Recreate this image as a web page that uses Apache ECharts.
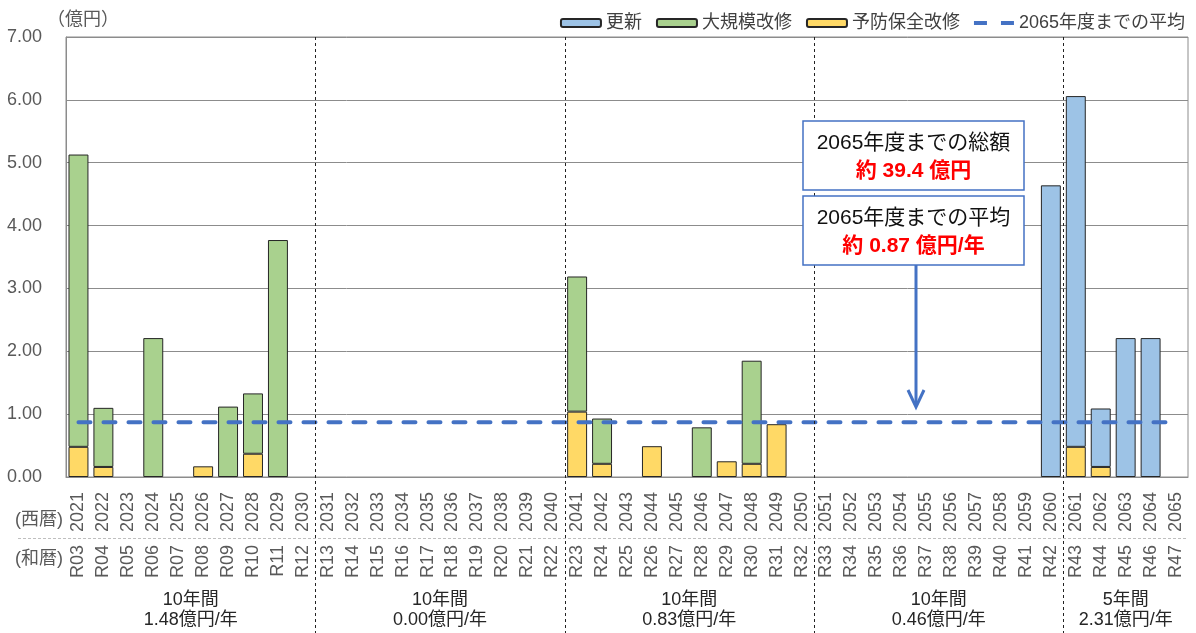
<!DOCTYPE html>
<html>
<head>
<meta charset="utf-8">
<script src="https://cdn.jsdelivr.net/npm/echarts@6/dist/echarts.min.js"></script>
<style>
  html, body { margin: 0; padding: 0; background: #fff; }
  #chart { width: 1196px; height: 633px; }
</style>
</head>
<body>
<div id="chart"></div>
<script>
// 西暦 / 和暦
const years = [
  '2021', '2022', '2023', '2024', '2025', '2026', '2027', '2028', '2029', '2030',
  '2031', '2032', '2033', '2034', '2035', '2036', '2037', '2038', '2039', '2040',
  '2041', '2042', '2043', '2044', '2045', '2046', '2047', '2048', '2049', '2050',
  '2051', '2052', '2053', '2054', '2055', '2056', '2057', '2058', '2059', '2060',
  '2061', '2062', '2063', '2064', '2065'
];
const wareki = [
  'R03', 'R04', 'R05', 'R06', 'R07', 'R08', 'R09', 'R10', 'R11', 'R12',
  'R13', 'R14', 'R15', 'R16', 'R17', 'R18', 'R19', 'R20', 'R21', 'R22',
  'R23', 'R24', 'R25', 'R26', 'R27', 'R28', 'R29', 'R30', 'R31', 'R32',
  'R33', 'R34', 'R35', 'R36', 'R37', 'R38', 'R39', 'R40', 'R41', 'R42',
  'R43', 'R44', 'R45', 'R46', 'R47'
];

// 億円
const preventive = [
  0.48, 0.16, null, null, null, 0.17, null, 0.37, null, null,
  null, null, null, null, null, null, null, null, null, null,
  1.04, 0.21, null, 0.49, null, null, 0.25, 0.21, 0.84, null,
  null, null, null, null, null, null, null, null, null, null,
  0.48, 0.16, null, null, null
];
const major = [
  4.65, 0.94, null, 2.21, null, null, 1.12, 0.96, 3.77, null,
  null, null, null, null, null, null, null, null, null, null,
  2.15, 0.72, null, null, null, 0.79, null, 1.64, null, null,
  null, null, null, null, null, null, null, null, null, null,
  null, null, null, null, null
];
const renewal = [
  null, null, null, null, null, null, null, null, null, null,
  null, null, null, null, null, null, null, null, null, null,
  null, null, null, null, null, null, null, null, null, null,
  null, null, null, null, null, null, null, null, null, 4.64,
  5.58, 0.93, 2.21, 2.21, null
];
const average = 0.87;

const yTicks = [0, 1, 2, 3, 4, 5, 6, 7];

// 期間ごとの集計
const periodStart = [0, 10, 20, 30, 40];
const periodEnd = [9, 19, 29, 39, 44];
const periodLength = ['10年間', '10年間', '10年間', '10年間', '5年間'];
const periodRate = ['1.48億円/年', '0.00億円/年', '0.83億円/年', '0.46億円/年', '2.31億円/年'];

const FONT = "'Liberation Sans', 'Noto Sans CJK JP', sans-serif";
const GRAY = '#8c8c8c';
const LABEL = '#595959';
const BLUE = '#4472C4';

const barStyle = color => ({ color: color, borderColor: '#262626', borderWidth: 1 });

const option = {
  animation: false,
  textStyle: { fontFamily: FONT },
  legend: {
    data: [
      '更新', '大規模改修', '予防保全改修',
      {
        name: '2065年度までの平均',
        icon: 'path://M0,0h13v4h-13z M27,0h13v4h-13z',
        itemStyle: { color: BLUE, borderWidth: 0 }
      }
    ],
    right: 6,
    top: 9,
    itemWidth: 40,
    itemHeight: 8,
    itemGap: 14,
    textStyle: { fontSize: 18, color: '#404040', fontFamily: FONT }
  },
  grid: {
    left: 66, right: 8, top: 37, bottom: 156,
    show: true, borderColor: GRAY, borderWidth: 1
  },
  xAxis: [
    {
      type: 'category',
      data: years,
      axisLine: { lineStyle: { color: GRAY } },
      axisTick: { show: false },
      axisLabel: { rotate: 90, interval: 0, margin: 15, fontSize: 18, color: LABEL, fontFamily: FONT }
    },
    {
      type: 'category',
      data: wareki,
      position: 'bottom',
      offset: 53,
      axisLine: { show: false },
      axisTick: { show: false },
      axisLabel: { rotate: 90, interval: 0, margin: 15, fontSize: 18, color: LABEL, fontFamily: FONT }
    }
  ],
  yAxis: {
    type: 'value',
    min: yTicks[0],
    max: yTicks[yTicks.length - 1],
    interval: 1,
    axisLine: { show: true, lineStyle: { color: GRAY } },
    axisLabel: { margin: 24, fontSize: 18, color: LABEL, fontFamily: FONT, formatter: v => v.toFixed(2) },
    splitLine: { lineStyle: { color: GRAY } }
  },
  series: [
    {
      name: '予防保全改修', type: 'bar', stack: 'total', data: preventive,
      barCategoryGap: '20%', itemStyle: barStyle('#FFD966')
    },
    {
      name: '大規模改修', type: 'bar', stack: 'total', data: major,
      itemStyle: barStyle('#A9D18E')
    },
    {
      name: '更新', type: 'bar', stack: 'total', data: renewal,
      itemStyle: barStyle('#9DC3E6')
    },
    {
      name: '2065年度までの平均', type: 'line',
      data: [[years[0], average], [years[years.length - 1], average]],
      symbol: 'none', z: 5,
      itemStyle: { color: BLUE },
      lineStyle: { color: BLUE, width: 4, type: [12, 13], cap: 'round' }
    }
  ]
};

const chart = echarts.init(document.getElementById('chart'));
chart.setOption(option);

// 補助線・注記
const xPx = i => chart.convertToPixel({ xAxisIndex: 0 }, years[i]);
const yTop = chart.convertToPixel({ yAxisIndex: 0 }, yTicks[yTicks.length - 1]);
const xRight = 1188;
const graphics = [];

graphics.push({
  type: 'text', left: 47, top: 11,
  style: { text: '（億円）', font: '18px ' + FONT, fill: LABEL }
});
graphics.push({
  type: 'text', x: 15, y: 520,
  style: { text: '(西暦)', font: '18px ' + FONT, fill: LABEL, verticalAlign: 'middle' }
});
graphics.push({
  type: 'text', x: 15, y: 559,
  style: { text: '(和暦)', font: '18px ' + FONT, fill: LABEL, verticalAlign: 'middle' }
});
graphics.push({
  type: 'line', z: 10,
  shape: { x1: 18, y1: 538.5, x2: xRight, y2: 538.5 },
  style: { stroke: '#bfbfbf', lineWidth: 1, lineDash: [3, 2] }
});

periodStart.forEach((s, k) => {
  if (s > 0) {
    const bx = Math.round((xPx(s - 1) + xPx(s)) / 2) + 0.5;
    graphics.push({
      type: 'line', z: 10,
      shape: { x1: bx, y1: yTop, x2: bx, y2: 633 },
      style: { stroke: '#222', lineWidth: 1, lineDash: [3, 3] }
    });
  }
  const cx = (xPx(s) + xPx(periodEnd[k])) / 2;
  graphics.push({
    type: 'text', x: cx, y: 600,
    style: { text: periodLength[k], font: '18px ' + FONT, fill: '#262626', align: 'center', verticalAlign: 'middle' }
  });
  graphics.push({
    type: 'text', x: cx, y: 620,
    style: { text: periodRate[k], font: '18px ' + FONT, fill: '#262626', align: 'center', verticalAlign: 'middle' }
  });
});

// 注記ボックス
const boxX = 803, boxW = 221, boxH = 69;
[[121, '2065年度までの総額', '約 39.4 億円'], [196, '2065年度までの平均', '約 0.87 億円/年']].forEach(b => {
  graphics.push({
    type: 'rect', z: 20,
    shape: { x: boxX, y: b[0], width: boxW, height: boxH },
    style: { fill: '#fff', stroke: BLUE, lineWidth: 1.5 }
  });
  graphics.push({
    type: 'text', z: 21, x: boxX + boxW / 2, y: b[0] + 22,
    style: { text: b[1], font: '21px ' + FONT, fill: '#111', align: 'center', verticalAlign: 'middle' }
  });
  graphics.push({
    type: 'text', z: 21, x: boxX + boxW / 2, y: b[0] + 50,
    style: { text: b[2], font: 'bold 21px ' + FONT, fill: '#FF0000', align: 'center', verticalAlign: 'middle' }
  });
});

// 矢印
graphics.push({
  type: 'line', z: 20,
  shape: { x1: 916, y1: 265, x2: 916, y2: 406 },
  style: { stroke: BLUE, lineWidth: 3 }
});
graphics.push({
  type: 'polyline', z: 20,
  shape: { points: [[908, 390], [916, 407], [924, 390]] },
  style: { stroke: BLUE, lineWidth: 3, fill: null }
});

chart.setOption({ graphic: graphics });
</script>
</body>
</html>
